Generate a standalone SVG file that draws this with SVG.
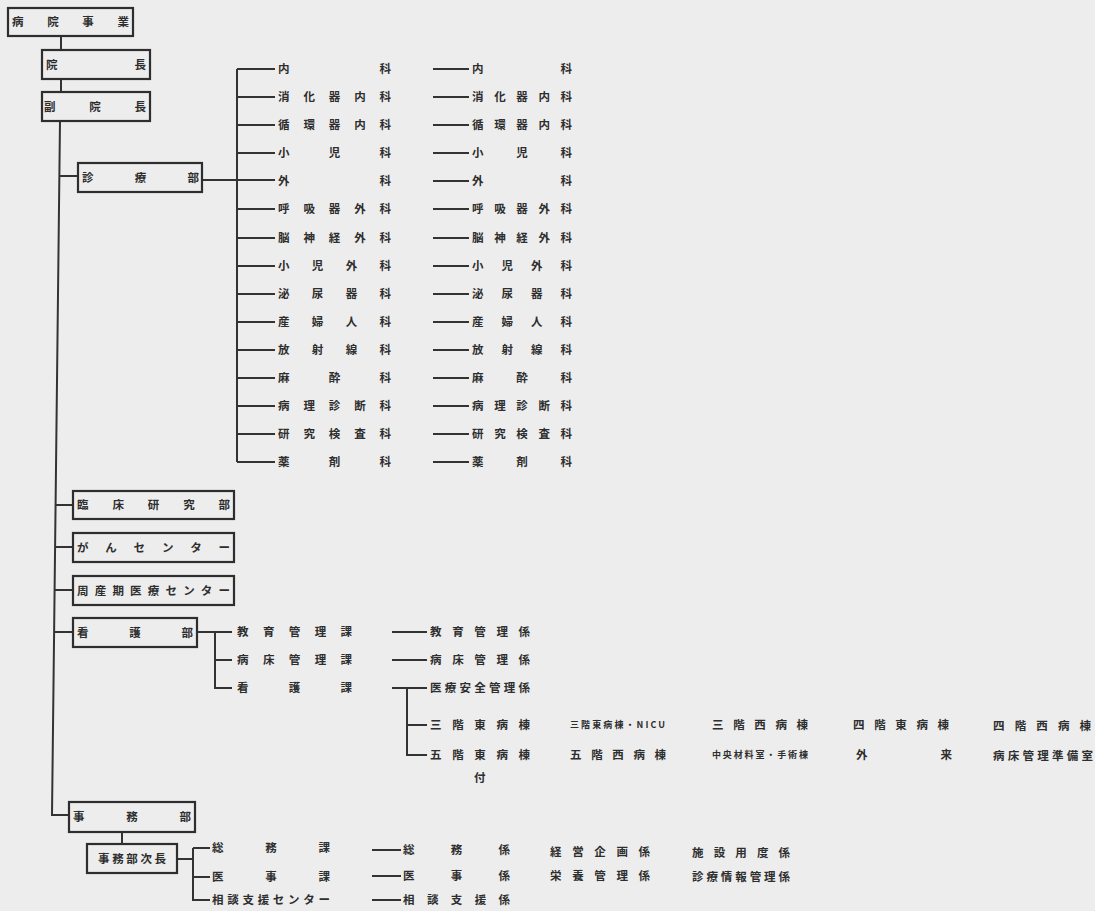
<svg xmlns="http://www.w3.org/2000/svg" width="1095" height="911" viewBox="0 0 1095 911">
<style>
.bg{fill:#ededed}
.box{fill:none;stroke:#2e2e2e;stroke-width:2.2}
.ln{fill:none;stroke:#333;stroke-width:2}
.t{font-family:"Noto Sans CJK JP","Noto Sans CJK SC",sans-serif;font-size:11.5px;font-weight:bold;fill:#2e2e2e}
.s{font-size:9px}
</style>
<rect class="bg" x="0" y="0" width="1095" height="911"/>
<g id="connectors">
<path class="ln" d="M61,36V50M61,79V92M60,121L52,815H69"/>
<path class="ln" d="M59.4,176H78M55.6,505H73M55.1,547H73M54.6,590H73M54.1,632H73"/>
<path class="ln" d="M202,180H237M237,69V462"/>
<path class="ln" d="M237,69H275M237,97H275M237,125H275M237,153H275M237,180H275M237,209H275M237,238H275M237,266H275M237,294H275M237,322H275M237,350H275M237,378H275M237,406H275M237,434H275M237,462H275"/>
<path class="ln" d="M433,69H469M433,97H469M433,125H469M433,153H469M433,181H469M433,209H469M433,238H469M433,266H469M433,294H469M433,322H469M433,350H469M433,378H469M433,406H469M433,434H469M433,462H469"/>
<path class="ln" d="M197,632H232M215,632V688H232M215,660H232"/>
<path class="ln" d="M392,632H427M392,660H427M392,688H427M407,688V755H427M407,725H427"/>
<path class="ln" d="M122,832V844M177,859H193M193,848V900H210M193,848H210M193,877H210"/>
<path class="ln" d="M372,850H401M372,876H401M372,900H401"/>
</g>
<g id="n-byoin-jigyo"><rect class="box" x="8" y="8" width="125" height="28"/><text class="t" x="12" y="26" textLength="117">病院事業</text></g>
<g id="n-inchou"><rect class="box" x="42" y="50" width="108" height="29"/><text class="t" x="46" y="69" textLength="100">院長</text></g>
<g id="n-fuku-inchou"><rect class="box" x="42" y="92" width="108" height="29"/><text class="t" x="44" y="111" textLength="102">副院長</text></g>
<g id="n-shinryoubu"><rect class="box" x="78" y="163" width="124" height="29"/><text class="t" x="82" y="182" textLength="117">診療部</text></g>
<g id="n-rinsho"><rect class="box" x="73" y="491" width="161" height="28"/><text class="t" x="77" y="509" textLength="153">臨床研究部</text></g>
<g id="n-gan"><rect class="box" x="73" y="533" width="161" height="29"/><text class="t" x="77" y="552" textLength="153">がんセンター</text></g>
<g id="n-shusanki"><rect class="box" x="73" y="576" width="161" height="29"/><text class="t" x="77" y="595" textLength="153">周産期医療センター</text></g>
<g id="n-kangobu"><rect class="box" x="73" y="618" width="124" height="29"/><text class="t" x="77" y="637" textLength="116">看護部</text></g>
<g id="n-jimubu"><rect class="box" x="69" y="802" width="126" height="30"/><text class="t" x="73" y="821" textLength="118">事務部</text></g>
<g id="n-jimubu-jicho"><rect class="box" x="87" y="844" width="90" height="29"/><text class="t" x="98" y="863" textLength="68">事務部次長</text></g>
<g id="depts-left">
<text class="t" x="278" y="73" textLength="113">内科</text>
<text class="t" x="278" y="101" textLength="113">消化器内科</text>
<text class="t" x="278" y="129" textLength="113">循環器内科</text>
<text class="t" x="278" y="157" textLength="113">小児科</text>
<text class="t" x="278" y="185" textLength="113">外科</text>
<text class="t" x="278" y="213" textLength="113">呼吸器外科</text>
<text class="t" x="278" y="242" textLength="113">脳神経外科</text>
<text class="t" x="278" y="270" textLength="113">小児外科</text>
<text class="t" x="278" y="298" textLength="113">泌尿器科</text>
<text class="t" x="278" y="326" textLength="113">産婦人科</text>
<text class="t" x="278" y="354" textLength="113">放射線科</text>
<text class="t" x="278" y="382" textLength="113">麻酔科</text>
<text class="t" x="278" y="410" textLength="113">病理診断科</text>
<text class="t" x="278" y="438" textLength="113">研究検査科</text>
<text class="t" x="278" y="466" textLength="113">薬剤科</text>
</g>
<g id="depts-right">
<text class="t" x="472" y="73" textLength="100">内科</text>
<text class="t" x="472" y="101" textLength="100">消化器内科</text>
<text class="t" x="472" y="129" textLength="100">循環器内科</text>
<text class="t" x="472" y="157" textLength="100">小児科</text>
<text class="t" x="472" y="185" textLength="100">外科</text>
<text class="t" x="472" y="213" textLength="100">呼吸器外科</text>
<text class="t" x="472" y="242" textLength="100">脳神経外科</text>
<text class="t" x="472" y="270" textLength="100">小児外科</text>
<text class="t" x="472" y="298" textLength="100">泌尿器科</text>
<text class="t" x="472" y="326" textLength="100">産婦人科</text>
<text class="t" x="472" y="354" textLength="100">放射線科</text>
<text class="t" x="472" y="382" textLength="100">麻酔科</text>
<text class="t" x="472" y="410" textLength="100">病理診断科</text>
<text class="t" x="472" y="438" textLength="100">研究検査科</text>
<text class="t" x="472" y="466" textLength="100">薬剤科</text>
</g>
<g id="nursing">
<text class="t" x="237" y="636" textLength="115">教育管理課</text>
<text class="t" x="237" y="664" textLength="115">病床管理課</text>
<text class="t" x="237" y="692" textLength="115">看護課</text>
<text class="t" x="430" y="636" textLength="100">教育管理係</text>
<text class="t" x="430" y="664" textLength="100">病床管理係</text>
<text class="t" x="430" y="692" textLength="100">医療安全管理係</text>
<text class="t" x="430" y="729" textLength="100">三階東病棟</text>
<text class="t" x="430" y="759" textLength="100">五階東病棟</text>
<text class="t s" x="570" y="728" textLength="95">三階東病棟・NICU</text>
<text class="t" x="712" y="729" textLength="96">三階西病棟</text>
<text class="t" x="853" y="729" textLength="96">四階東病棟</text>
<text class="t" x="993" y="730" textLength="98">四階西病棟</text>
<text class="t" x="570" y="759" textLength="96">五階西病棟</text>
<text class="t s" x="712" y="758" textLength="96">中央材料室・手術棟</text>
<text class="t" x="856" y="759" textLength="96">外来</text>
<text class="t" x="993" y="760" textLength="100">病床管理準備室</text>
<text class="t" x="474" y="782">付</text>
</g>
<g id="admin">
<text class="t" x="212" y="852" textLength="118">総務課</text>
<text class="t" x="212" y="881" textLength="118">医事課</text>
<text class="t" x="212" y="904" textLength="118">相談支援センター</text>
<text class="t" x="403" y="854" textLength="107">総務係</text>
<text class="t" x="403" y="880" textLength="107">医事係</text>
<text class="t" x="403" y="904" textLength="107">相談支援係</text>
<text class="t" x="550" y="856" textLength="100">経営企画係</text>
<text class="t" x="550" y="880" textLength="100">栄養管理係</text>
<text class="t" x="692" y="857" textLength="98">施設用度係</text>
<text class="t" x="692" y="881" textLength="98">診療情報管理係</text>
</g>
</svg>
